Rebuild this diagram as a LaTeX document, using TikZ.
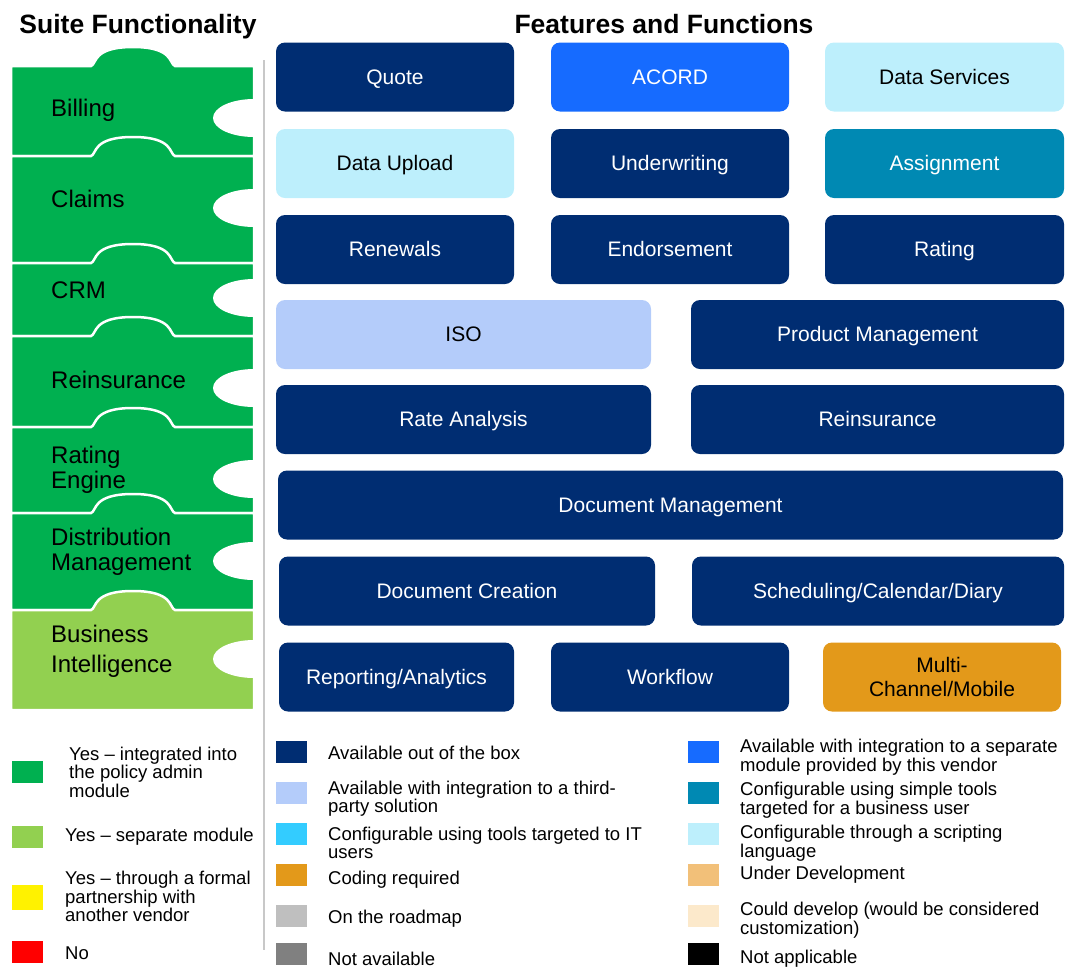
\documentclass[tikz,border=0pt]{standalone}
\usepackage{fontspec}
\setmainfont{Liberation Sans}
\definecolor{navy}{HTML}{002D72}
\definecolor{acord}{HTML}{166BFF}
\definecolor{lcyan}{HTML}{BDEFFC}
\definecolor{tealb}{HTML}{0089B3}
\definecolor{isoblue}{HTML}{B4CCFA}
\definecolor{orangeb}{HTML}{E3991A}
\definecolor{cyanb}{HTML}{33CCFF}
\definecolor{underdev}{HTML}{F2C079}
\definecolor{cream}{HTML}{FCE9CB}
\definecolor{road}{HTML}{BFBFBF}
\definecolor{notav}{HTML}{808080}
\definecolor{greena}{HTML}{00B050}
\definecolor{greenb}{HTML}{92D050}
\definecolor{sepline}{HTML}{C8C8C8}
\newcommand{\puzpiece}[3]{%
  \filldraw[fill=#3, draw=white, line width=2.5pt]
    (11,#1) -- (91,#1) .. controls (97,#1-2) and (92,#1-19) .. (133,#1-19)
    .. controls (174,#1-19) and (169,#1-2) .. (175,#1) -- (254,#1)
    -- (254,#2) -- (11,#2) -- cycle;}
\begin{document}
\begin{tikzpicture}[x=1pt,y=-1pt,
  featbase/.style={rounded corners=9pt, inner sep=0pt, minimum height=69pt,
     font=\fontsize{21}{24}\selectfont, align=center},
  feat/.style={featbase, text height=16pt, text depth=1.5pt},
  dark/.style={feat, fill=navy, text=white},
  sw/.style={minimum width=31pt, minimum height=22pt, inner sep=0pt},
  leg/.style={anchor=west, align=left, inner sep=0pt,
     font=\fontsize{18.5}{18.5}\selectfont},
  plab/.style={anchor=west, align=left, inner sep=0pt,
     font=\fontsize{24}{25}\selectfont},
  ttl/.style={font=\fontsize{26.5}{30}\selectfont\bfseries, inner sep=0pt,
     text height=19pt, text depth=0pt}]
\useasboundingbox (0,0) rectangle (1065,970);

% titles
\node[ttl] (t1) at (138,24) {Suite Functionality};
\node[ttl] (t2) at (664,24) {Features and Functions};

% puzzle pieces
\puzpiece{66}{156}{greena}
\puzpiece{156}{263}{greena}
\puzpiece{263}{336}{greena}
\puzpiece{336}{427}{greena}
\puzpiece{427}{513}{greena}
\puzpiece{513}{610}{greena}
\puzpiece{610}{710}{greenb}
\begin{scope}
  \clip (0,0) rectangle (254,970);
  \foreach \cy in {118,208,298,388,479,561,659}
    \fill[white] (254,\cy) ellipse [x radius=41pt, y radius=19pt];
\end{scope}

% separator
\draw[sepline, line width=2pt] (264,60) -- (264,950);

\node[plab] (pbill) at (51,110) {Billing};
\node[plab] (pclaim) at (51,199) {Claims};
\node[plab] (pcrm) at (51,290) {CRM};
\node[plab] (preins) at (51,380) {Reinsurance};
\node[plab] (prate) at (51,469.5) {Rating\\Engine};
\node[plab] (pdist) at (51,551.5) {Distribution\\Management};
\node[plab] (pbi) at (51,651) {Business\\[5pt]Intelligence};

% feature boxes
\node[dark, minimum width=238pt] (quote) at (395,77) {Quote};
\node[feat, fill=acord, text=white, minimum width=238pt] (acordb) at (670,77) {ACORD};
\node[feat, fill=lcyan, minimum width=239pt] (datas) at (944.5,77) {Data Services};

\node[feat, fill=lcyan, minimum width=238pt] (dataup) at (395,163.5) {Data Upload};
\node[dark, minimum width=238pt] (underw) at (670,163.5) {Underwriting};
\node[feat, fill=tealb, text=white, minimum width=239pt] (assign) at (944.5,163.5) {Assignment};

\node[dark, minimum width=238pt] (renew) at (395,249.5) {Renewals};
\node[dark, minimum width=238pt] (endorse) at (670,249.5) {Endorsement};
\node[dark, minimum width=239pt] (rating) at (944.5,249.5) {Rating};

\node[feat, fill=isoblue, minimum width=375pt] (iso) at (463.5,334.5) {ISO};
\node[dark, minimum width=373pt] (prodm) at (877.5,334.5) {Product Management};

\node[dark, minimum width=375pt] (ratean) at (463.5,419.5) {Rate Analysis};
\node[dark, minimum width=373pt] (reins) at (877.5,419.5) {Reinsurance};

\node[dark, minimum width=785pt] (docm) at (670.5,505) {Document Management};

\node[dark, minimum width=376pt] (docc) at (467,591) {Document Creation};
\node[dark, minimum width=372pt] (sched) at (878,591) {Scheduling/Calendar/Diary};

\node[dark, minimum width=235pt] (report) at (396.5,677) {Reporting/Analytics};
\node[dark, minimum width=238pt] (workf) at (670,677) {Workflow};
\node[featbase, fill=orangeb, minimum width=238pt] (multi) at (942,677) {Multi-\\Channel/Mobile};

% left legend
\node[sw, fill=greena] (sa) at (27.5,771.5) {};
\node[sw, fill=greenb] (sb) at (27.5,836.5) {};
\node[sw, fill=yellow, minimum height=25pt] (sc) at (27.5,897.5) {};
\node[sw, fill=red] (sd) at (27.5,951.5) {};
\node[leg] (la) at (69,772) {Yes – integrated into\\the policy admin\\module};
\node[leg] (lb) at (65,837) {Yes – separate module};
\node[leg] (lc) at (65,896.5) {Yes – through a formal\\partnership with\\another vendor};
\node[leg] (ld) at (65,953) {No};

% middle legend
\node[sw, fill=navy] (m1) at (291.5,752) {};
\node[sw, fill=isoblue] (m2) at (291.5,793) {};
\node[sw, fill=cyanb] (m3) at (291.5,834) {};
\node[sw, fill=orangeb] (m4) at (291.5,875) {};
\node[sw, fill=road] (m5) at (291.5,916) {};
\node[sw, fill=notav] (m6) at (291.5,954) {};
\node[leg] (ml1) at (328,753) {Available out of the box};
\node[leg] (ml2) at (328,798.5) {Available with integration to a third-\\party solution};
\node[leg] (ml3) at (328,843) {Configurable using tools targeted to IT\\users};
\node[leg] (ml4) at (328,880) {Coding required};
\node[leg] (ml5) at (328,919) {On the roadmap};
\node[leg] (ml6) at (328,959) {Not available};

% right legend
\node[sw, fill=acord] (r1) at (703.5,752) {};
\node[sw, fill=tealb] (r2) at (703.5,793) {};
\node[sw, fill=lcyan] (r3) at (703.5,834) {};
\node[sw, fill=underdev] (r4) at (703.5,875) {};
\node[sw, fill=cream] (r5) at (703.5,916) {};
\node[sw, fill=black] (r6) at (703.5,954) {};
\node[leg] (rl1) at (740,757) {Available with integration to a separate\\module provided by this vendor};
\node[leg] (rl2) at (740,800) {Configurable using simple tools\\targeted for a business user};
\node[leg] (rl3) at (740,843) {Configurable through a scripting\\language};
\node[leg] (rl4) at (740,875) {Under Development};
\node[leg] (rl5) at (740,920) {Could develop (would be considered\\customization)};
\node[leg] (rl6) at (740,959) {Not applicable};
\end{tikzpicture}
\end{document}
